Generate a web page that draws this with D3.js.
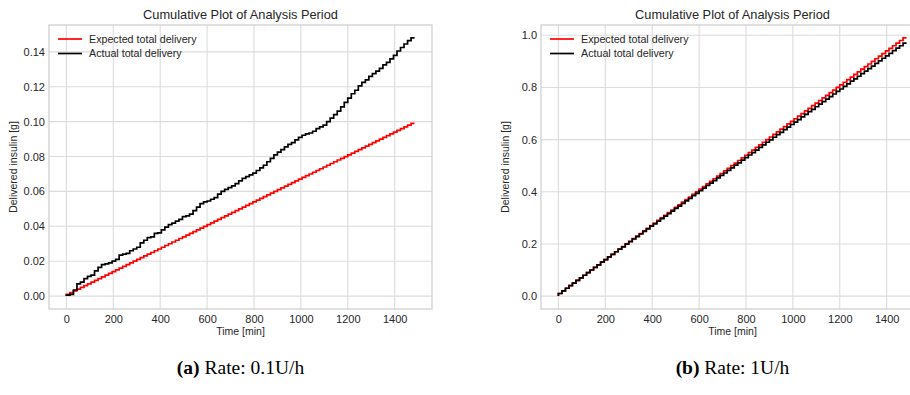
<!DOCTYPE html>
<html>
<head>
<meta charset="utf-8">
<script src="https://cdn.jsdelivr.net/npm/d3@7"></script>
<style>
  body { margin: 0; background: #fff; }
  svg { display: block; }
</style>
</head>
<body>
<svg id="fig" width="910" height="395"></svg>
<script>
// time stamps of the analysis period, every 15 min
const timeMin = [0, 15, 30, 45, 60, 75, 90, 105, 120, 135, 150, 165, 180, 195, 210, 225, 240, 255, 270, 285,
  300, 315, 330, 345, 360, 375, 390, 405, 420, 435, 450, 465, 480, 495, 510, 525, 540, 555, 570, 585,
  600, 615, 630, 645, 660, 675, 690, 705, 720, 735, 750, 765, 780, 795, 810, 825, 840, 855, 870, 885,
  900, 915, 930, 945, 960, 975, 990, 1005, 1020, 1035, 1050, 1065, 1080, 1095, 1110, 1125, 1140, 1155, 1170, 1185,
  1200, 1215, 1230, 1245, 1260, 1275, 1290, 1305, 1320, 1335, 1350, 1365, 1380, 1395, 1410, 1425, 1440, 1455, 1470, 1485]

// (a) rate 0.1U/h
const expectedA = [0, 0.001, 0.002, 0.003, 0.004, 0.005, 0.006, 0.007, 0.008, 0.009, 0.010, 0.011, 0.012, 0.013, 0.014, 0.015, 0.016, 0.017, 0.018, 0.019,
  0.020, 0.021, 0.022, 0.023, 0.024, 0.025, 0.026, 0.027, 0.028, 0.029, 0.030, 0.031, 0.032, 0.033, 0.034, 0.035, 0.036, 0.037, 0.038, 0.039,
  0.040, 0.041, 0.042, 0.043, 0.044, 0.045, 0.046, 0.047, 0.048, 0.049, 0.050, 0.051, 0.052, 0.053, 0.054, 0.055, 0.056, 0.057, 0.058, 0.059,
  0.060, 0.061, 0.062, 0.063, 0.064, 0.065, 0.066, 0.067, 0.068, 0.069, 0.070, 0.071, 0.072, 0.073, 0.074, 0.075, 0.076, 0.077, 0.078, 0.079,
  0.080, 0.081, 0.082, 0.083, 0.084, 0.085, 0.086, 0.087, 0.088, 0.089, 0.090, 0.091, 0.092, 0.093, 0.094, 0.095, 0.096, 0.097, 0.098, 0.099]
const actualA = [0, 0.0005, 0.001, 0.0035, 0.007, 0.008, 0.010, 0.0113, 0.012, 0.0145, 0.0165, 0.018, 0.0185, 0.019, 0.020, 0.021, 0.0235, 0.024, 0.0245, 0.026,
  0.027, 0.028, 0.0305, 0.032, 0.0335, 0.034, 0.036, 0.0362, 0.038, 0.0395, 0.041, 0.0418, 0.043, 0.044, 0.0455, 0.046, 0.047, 0.049, 0.051, 0.053,
  0.054, 0.0545, 0.0555, 0.0565, 0.0585, 0.060, 0.0612, 0.0622, 0.0632, 0.0645, 0.066, 0.0675, 0.0685, 0.0695, 0.0705, 0.072, 0.0735, 0.075, 0.077, 0.079,
  0.081, 0.0825, 0.084, 0.0855, 0.087, 0.088, 0.0895, 0.091, 0.0922, 0.093, 0.0935, 0.0945, 0.096, 0.097, 0.098, 0.100, 0.102, 0.104, 0.106, 0.1085,
  0.111, 0.1135, 0.116, 0.118, 0.1205, 0.1225, 0.124, 0.126, 0.1275, 0.129, 0.1305, 0.1325, 0.134, 0.136, 0.138, 0.1405, 0.1425, 0.1445, 0.1465, 0.148]

// (b) rate 1U/h
const expectedB = [0, 0.01, 0.02, 0.03, 0.04, 0.05, 0.06, 0.07, 0.08, 0.09, 0.10, 0.11, 0.12, 0.13, 0.14, 0.15, 0.16, 0.17, 0.18, 0.19,
  0.20, 0.21, 0.22, 0.23, 0.24, 0.25, 0.26, 0.27, 0.28, 0.29, 0.30, 0.31, 0.32, 0.33, 0.34, 0.35, 0.36, 0.37, 0.38, 0.39,
  0.40, 0.41, 0.42, 0.43, 0.44, 0.45, 0.46, 0.47, 0.48, 0.49, 0.50, 0.51, 0.52, 0.53, 0.54, 0.55, 0.56, 0.57, 0.58, 0.59,
  0.60, 0.61, 0.62, 0.63, 0.64, 0.65, 0.66, 0.67, 0.68, 0.69, 0.70, 0.71, 0.72, 0.73, 0.74, 0.75, 0.76, 0.77, 0.78, 0.79,
  0.80, 0.81, 0.82, 0.83, 0.84, 0.85, 0.86, 0.87, 0.88, 0.89, 0.90, 0.91, 0.92, 0.93, 0.94, 0.95, 0.96, 0.97, 0.98, 0.99]
const actualB = [0, 0.01, 0.02, 0.03, 0.04, 0.05, 0.06, 0.07, 0.08, 0.09, 0.10, 0.11, 0.12, 0.13, 0.14, 0.15, 0.16, 0.170, 0.180, 0.189,
  0.199, 0.209, 0.219, 0.228, 0.238, 0.248, 0.258, 0.268, 0.277, 0.287, 0.297, 0.307, 0.316, 0.326, 0.336, 0.345, 0.355, 0.365, 0.375, 0.385,
  0.394, 0.404, 0.414, 0.424, 0.433, 0.443, 0.453, 0.463, 0.472, 0.482, 0.492, 0.502, 0.511, 0.521, 0.531, 0.541, 0.550, 0.560, 0.570, 0.580,
  0.590, 0.599, 0.609, 0.619, 0.628, 0.638, 0.648, 0.658, 0.667, 0.677, 0.687, 0.697, 0.707, 0.716, 0.726, 0.736, 0.746, 0.755, 0.765, 0.775,
  0.785, 0.794, 0.804, 0.814, 0.824, 0.833, 0.843, 0.853, 0.863, 0.872, 0.882, 0.892, 0.902, 0.912, 0.921, 0.931, 0.941, 0.951, 0.960, 0.970]

const xTicks = [0, 200, 400, 600, 800, 1000, 1200, 1400]
const yTicksA = [0, 0.02, 0.04, 0.06, 0.08, 0.10, 0.12, 0.14]
const yTicksB = [0, 0.2, 0.4, 0.6, 0.8, 1.0]
const legendLabels = ["Expected total delivery", "Actual total delivery"]
const seriesColors = ["#ff0000", "#000000"]

const svg = d3.select("#fig")
const sans = "'Liberation Sans', Arial, sans-serif"

function drawPanel(left, expected, actual, yTicks, yFmt, caption, capLetter) {
  const top = 25, width = 383, height = 284
  const g = svg.append("g").attr("transform", `translate(${left},${top})`)

  // matplotlib default 5% margins
  const xmax = d3.max(timeMin)
  const ymax = d3.max(expected.concat(actual))
  const x = d3.scaleLinear().domain([-0.05 * xmax, 1.05 * xmax]).range([0, width])
  const y = d3.scaleLinear().domain([-0.05 * ymax, 1.05 * ymax]).range([height, 0])

  // grid
  g.selectAll(".gx").data(xTicks).enter().append("line")
    .attr("x1", d => x(d)).attr("x2", d => x(d))
    .attr("y1", 0).attr("y2", height)
    .attr("stroke", "#dcdcdc").attr("stroke-width", 1.1)
  g.selectAll(".gy").data(yTicks).enter().append("line")
    .attr("x1", 0).attr("x2", width)
    .attr("y1", d => y(d)).attr("y2", d => y(d))
    .attr("stroke", "#dcdcdc").attr("stroke-width", 1.1)

  // axes (no tick marks, just labels)
  const xAxis = g.append("g").attr("transform", `translate(0,${height})`)
    .call(d3.axisBottom(x).tickValues(xTicks).tickSize(0).tickPadding(6).tickFormat(d3.format("d")))
  const yAxis = g.append("g")
    .call(d3.axisLeft(y).tickValues(yTicks).tickSize(0).tickPadding(4).tickFormat(d3.format(yFmt)))
  for (const ax of [xAxis, yAxis]) {
    ax.select(".domain").remove()
    ax.selectAll("text").attr("font-family", sans).attr("font-size", 11).attr("fill", "#262626")
  }

  // frame
  g.append("rect").attr("width", width).attr("height", height)
    .attr("fill", "none").attr("stroke", "#cccccc").attr("stroke-width", 1.2)

  const line = vals => d3.line()
    .x((d, i) => x(timeMin[i]))
    .y(d => y(d))
    .curve(d3.curveStepBefore)(vals)

  g.append("path").attr("d", line(expected))
    .attr("fill", "none").attr("stroke", seriesColors[0]).attr("stroke-width", 1.7)
  g.append("path").attr("d", line(actual))
    .attr("fill", "none").attr("stroke", seriesColors[1]).attr("stroke-width", 1.7)

  // title + labels
  g.append("text").attr("x", width / 2).attr("y", -6)
    .attr("text-anchor", "middle").attr("font-family", sans).attr("font-size", 12.8)
    .attr("fill", "#262626").text("Cumulative Plot of Analysis Period")
  g.append("text").attr("x", width / 2).attr("y", height + 26)
    .attr("text-anchor", "middle").attr("font-family", sans).attr("font-size", 10.5)
    .attr("fill", "#262626").text("Time [min]")
  g.append("text")
    .attr("transform", `translate(${-32},${height / 2}) rotate(-90)`)
    .attr("text-anchor", "middle").attr("font-family", sans).attr("font-size", 10.5)
    .attr("fill", "#262626").text("Delivered insulin [g]")

  // legend
  legendLabels.forEach((lab, i) => {
    const ly = 14 + i * 14.5
    g.append("line").attr("x1", 9).attr("x2", 33).attr("y1", ly).attr("y2", ly)
      .attr("stroke", seriesColors[i]).attr("stroke-width", 1.7)
    g.append("text").attr("x", 40).attr("y", ly + 3.8)
      .attr("font-family", sans).attr("font-size", 10.7).attr("fill", "#262626").text(lab)
  })

  // caption
  const cap = svg.append("text").attr("x", left + width / 2).attr("y", 374)
    .attr("text-anchor", "middle").attr("font-family", "'Liberation Serif', 'DejaVu Serif', serif")
    .attr("font-size", 19.5).attr("fill", "#000")
  cap.append("tspan").attr("font-weight", "bold").text(capLetter)
  cap.append("tspan").text(" " + caption)
}

drawPanel(49, expectedA, actualA, yTicksA, ".2f", "Rate: 0.1U/h", "(a)")
drawPanel(541, expectedB, actualB, yTicksB, ".1f", "Rate: 1U/h", "(b)")
</script>
</body>
</html>
